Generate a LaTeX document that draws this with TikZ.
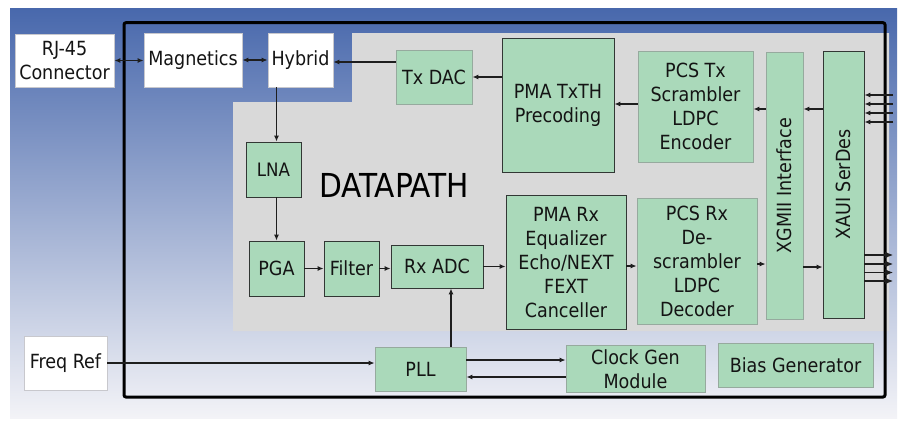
\documentclass[tikz,border=0pt]{standalone}
\usepackage{fontspec}
\setmainfont{DejaVu Sans Condensed}
\usetikzlibrary{arrows.meta,calc}
\definecolor{bgtop}{RGB}{72,104,172}
\definecolor{bgbot}{RGB}{243,243,247}
\definecolor{dpgrey}{RGB}{217,217,217}
\definecolor{boxgreen}{RGB}{170,217,186}
\definecolor{darkedge}{RGB}{50,55,52}
\definecolor{lightedge}{RGB}{150,170,158}
\definecolor{whiteedge}{RGB}{200,200,205}
\definecolor{txt}{RGB}{20,20,20}
\definecolor{arrcol}{RGB}{30,30,30}
\begin{document}
\begin{tikzpicture}[x=1pt,y=-1pt,
  every node/.style={font=\fontsize{19.5}{24}\selectfont, text=txt, align=center, inner sep=0pt},
  gbox/.style={draw=darkedge, fill=boxgreen, line width=0.9pt},
  lbox/.style={draw=lightedge, fill=boxgreen, line width=0.9pt},
  wbox/.style={draw=whiteedge, fill=white, line width=0.8pt},
  arr/.style={draw=arrcol, line width=1.1pt, -{Latex[length=6pt,width=5pt]}},
  darr/.style={draw=arrcol, line width=1.1pt, {Latex[length=6pt,width=5pt]}-{Latex[length=6pt,width=5pt]}},
  bigarr/.style={draw=arrcol, line width=1.1pt, -{Latex[length=8pt,width=7pt]}}]
\useasboundingbox (0,0) rectangle (901,421);
% background
\shade[top color=bgtop, bottom color=bgbot] (10,8) rectangle (897,418);
% datapath region
\fill[dpgrey] (233,102) -- (352,102) -- (352,33) -- (889,33) -- (889,331) -- (233,331) -- cycle;
% outer border
\draw[black, line width=3pt, rounded corners=2pt] (124,22.7) rectangle (885,397);
% DATAPATH label
\node[anchor=base west, font=\fontsize{33}{36}\selectfont, text=black] (dp) at (319,197) {DATAPATH};
% white boxes
\node[wbox, minimum width=99pt, minimum height=53pt] (rj) at (64.5,60.5) {RJ-45\\Connector};
\node[wbox, minimum width=98pt, minimum height=54pt] (mag) at (193,60) {Magnetics};
\node[wbox, minimum width=65pt, minimum height=54pt] (hyb) at (300.5,60) {Hybrid};
\node[wbox, minimum width=83pt, minimum height=54pt] (freq) at (65.5,363) {Freq Ref};
% green boxes
\node[lbox, minimum width=76pt, minimum height=54pt] (txdac) at (434,77) {Tx DAC};
\node[gbox, minimum width=112pt, minimum height=134pt] (pmatx) at (558,105) {PMA TxTH\\Precoding};
\node[lbox, minimum width=115pt, minimum height=111pt] (pcstx) at (695.5,106.5) {PCS Tx\\Scrambler\\LDPC\\Encoder};
\node[lbox, minimum width=37pt, minimum height=267pt] (xgmii) at (784.5,185.5) {};
\node[rotate=90] (xgmiit) at (xgmii.center) {XGMII Interface};
\node[gbox, minimum width=41pt, minimum height=267pt] (xaui) at (843.5,184.5) {};
\node[rotate=90] (xauit) at (xaui.center) {XAUI SerDes};
\node[gbox, minimum width=55pt, minimum height=55pt, font=\fontsize{18.5}{22}\selectfont] (lna) at (273.5,169.5) {LNA};
\node[gbox, minimum width=55pt, minimum height=55pt] (pga) at (276.5,268.5) {PGA};
\node[gbox, minimum width=55pt, minimum height=55pt] (filter) at (351.5,268.5) {Filter};
\node[gbox, minimum width=92pt, minimum height=43pt] (rxadc) at (437,266.5) {Rx ADC};
\node[gbox, minimum width=120pt, minimum height=134pt] (pmarx) at (566,262.5) {PMA Rx\\Equalizer\\Echo/NEXT\\FEXT\\Canceller};
\node[lbox, minimum width=120pt, minimum height=126pt] (pcsrx) at (697,261.5) {PCS Rx\\De-\\scrambler\\LDPC\\Decoder};
\node[lbox, minimum width=91pt, minimum height=44pt] (pll) at (420.5,369) {PLL};
\node[lbox, minimum width=139pt, minimum height=47pt] (clk) at (635.5,369) {Clock Gen\\Module};
\node[lbox, minimum width=155pt, minimum height=44pt] (bias) at (795.5,365) {Bias Generator};
% helper coordinates
\coordinate (yh) at (0,62);
\coordinate (ytx) at (0,109);
\coordinate (yrx) at (0,267);
\coordinate (ycx) at (0,264);
\coordinate (yp1) at (0,360);
\coordinate (yp2) at (0,377);
\coordinate (xv) at (451,0);
\coordinate (in1) at (893,95);
\coordinate (in2) at (893,104);
\coordinate (in3) at (893,113);
\coordinate (in4) at (893,122);
\coordinate (out1) at (893,255);
\coordinate (out2) at (893,264);
\coordinate (out3) at (893,272.5);
\coordinate (out4) at (893,281);
% connectors
\draw[darr] (rj.east) -- (rj.east -| mag.west);
\draw[darr] (mag.east) -- (mag.east -| hyb.west);
\draw[arr] (txdac.west |- yh) -- (hyb.east |- yh);
\draw[arr] (hyb.south -| pga) -- (lna.north -| pga);
\draw[arr] (lna.south -| pga) -- (pga.north);
\draw[arr] (pga.east) -- (filter.west);
\draw[arr] (filter.east) -- (filter.east -| rxadc.west);
\draw[arr] (rxadc.east) -- (rxadc.east -| pmarx.west);
\draw[arr] (pmarx.east |- 0,266) -- (pcsrx.west |- 0,266);
\draw[arr] (pcsrx.east |- ycx) -- (xgmii.west |- ycx);
\draw[arr] (xgmii.east |- yrx) -- (xaui.west |- yrx);
\draw[arr] (xaui.west |- ytx) -- (xgmii.east |- ytx);
\draw[arr] (xgmii.west |- ytx) -- (pcstx.east |- ytx);
\draw[arr] (pcstx.west |- 0,104) -- (pmatx.east |- 0,104);
\draw[arr] (pmatx.west |- txdac) -- (txdac.east);
\foreach \c in {in1,in2,in3,in4} \draw[arr] (\c) -- (\c -| xaui.east);
\foreach \c in {out1,out2,out3,out4} \draw[bigarr] (\c -| xaui.east) -- (\c);
\draw[arr] (freq.east) -- (freq.east -| pll.west);
\draw[arr] (pll.north -| xv) -- (rxadc.south -| xv);
\draw[arr] (pll.east |- yp1) -- (clk.west |- yp1);
\draw[arr] (clk.west |- yp2) -- (pll.east |- yp2);
\end{tikzpicture}
\end{document}
